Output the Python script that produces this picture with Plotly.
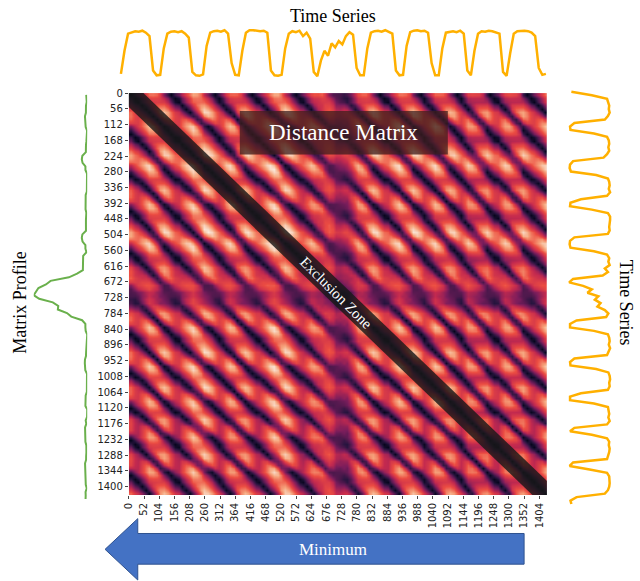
import numpy as np
import plotly.graph_objects as go

# time series, 120 samples (one per 12 time steps), 10 cycles
ts = [0.08, 0.55, 0.9, 0.93, 0.95, 0.94, 0.96, 0.92, 0.85, 0.15, 0.05, 0.06,
      0.6, 0.9, 0.94, 0.95, 0.93, 0.95, 0.9, 0.82, 0.12, 0.05, 0.04, 0.07,
      0.65, 0.92, 0.95, 0.96, 0.94, 0.97, 0.9, 0.3, 0.06, 0.05, 0.55, 0.92,
      0.97, 0.97, 0.96, 0.95, 0.96, 0.92, 0.15, 0.05, 0.04, 0.06, 0.6, 0.9,
      0.95, 0.93, 0.96, 0.85, 0.92, 0.8, 0.12, 0.03, 0.35, 0.55, 0.45, 0.7,
      0.62, 0.75, 0.68, 0.85, 0.93, 0.88, 0.2, 0.05, 0.05, 0.6, 0.92, 0.95,
      0.96, 0.94, 0.97, 0.93, 0.9, 0.15, 0.05, 0.06, 0.65, 0.93, 0.96, 0.97,
      0.95, 0.96, 0.92, 0.3, 0.05, 0.05, 0.6, 0.92, 0.94, 0.95, 0.93, 0.96,
      0.9, 0.15, 0.05, 0.55, 0.9, 0.95, 0.94, 0.96, 0.95, 0.93, 0.9, 0.12,
      0.04, 0.5, 0.9, 0.95, 0.96, 0.96, 0.95, 0.92, 0.85, 0.2, 0.06, 0.08]
step = 12
m = 7  # window length in samples
x_ticks = list(range(0, 1405, 52))
y_ticks = list(range(0, 1401, 56))

a = np.array(ts)
n = len(a) - m + 1
win = np.array([a[i:i + m] for i in range(n)])
dist = np.sqrt(((win[:, None, :] - win[None, :, :]) ** 2).sum(-1)) ** 1.3
excl = 3
mp = []
for i in range(n):
    row = dist[i].copy()
    row[max(0, i - excl):i + excl + 1] = np.inf
    mp.append(row.min())
full = 1430
d = full / n
idx = (np.arange(n) + 0.5) * d

W, H = 640, 581
px = lambda v: v / W
py = lambda v: 1 - v / H

rocket = [[0, "#03051a"], [0.15, "#2a1540"], [0.35, "#7a1d5c"], [0.52, "#c42a4f"],
          [0.68, "#ec4d42"], [0.85, "#f6a47c"], [1, "#faebdd"]]

fig = go.Figure()
fig.add_trace(go.Heatmap(z=dist, x=idx, y=idx, colorscale=rocket, showscale=False,
                         zsmooth="best", xaxis="x", yaxis="y"))
t_idx = np.arange(len(ts)) * step
fig.add_trace(go.Scatter(x=t_idx, y=ts, mode="lines", line=dict(color="#ffb000", width=2.5),
                         xaxis="x2", yaxis="y2", showlegend=False))
fig.add_trace(go.Scatter(x=ts, y=t_idx, mode="lines", line=dict(color="#ffb000", width=2.5),
                         xaxis="x3", yaxis="y3", showlegend=False))
fig.add_trace(go.Scatter(x=[-v for v in mp], y=idx, mode="lines", line=dict(color="#6ab04c", width=2),
                         xaxis="x4", yaxis="y4", showlegend=False))

tf = dict(family="DejaVu Sans", size=10, color="#222")
hm_range = [0, full]
fig.update_layout(
    width=W, height=H, margin=dict(l=0, r=0, t=0, b=0),
    paper_bgcolor="white", plot_bgcolor="white", showlegend=False,
    xaxis=dict(domain=[px(124), px(546)], anchor="y", range=hm_range, tickvals=x_ticks,
               tickangle=-90, tickfont=tf, ticks="outside", ticklen=3, showgrid=False, zeroline=False),
    yaxis=dict(domain=[py(494), py(88)], anchor="x", range=hm_range[::-1], tickvals=y_ticks,
               tickfont=tf, ticks="outside", ticklen=3, showgrid=False, zeroline=False),
    xaxis2=dict(domain=[px(113), px(548)], anchor="y2", range=[-10, t_idx[-1] + 10], visible=False),
    yaxis2=dict(domain=[py(75), py(22)], anchor="x2", range=[-0.05, 1.02], visible=False),
    xaxis3=dict(domain=[px(565), px(612)], anchor="y3", range=[-0.05, 1.02], visible=False),
    yaxis3=dict(domain=[py(505), py(85)], anchor="x3", range=[t_idx[-1] + 6, -6], visible=False),
    xaxis4=dict(domain=[px(28), px(82)], anchor="y4", visible=False),
    yaxis4=dict(domain=[py(500), py(88)], anchor="x4", range=[full, 0], visible=False),
)

serif = "Liberation Serif"
# exclusion zone band
b = 25
s0, L = -25, full + 30
fig.add_shape(type="path", xref="x", yref="y",
              path=f"M {s0-b},{s0+b} L {s0+b},{s0-b} L {L+b},{L-b} L {L-b},{L+b} Z",
              fillcolor="rgba(25,25,25,0.82)", line_width=0, layer="above")
fig.add_annotation(x=710, y=710, xref="x", yref="y", text="Exclusion Zone", textangle=45,
                   showarrow=False, font=dict(family=serif, size=15, color="white"))

def label(x, y, text, size, color="black", angle=0):
    fig.add_annotation(x=px(x), y=py(y), xref="paper", yref="paper", text=text, textangle=angle,
                       xanchor="center", yanchor="middle", showarrow=False,
                       font=dict(family=serif, size=size, color=color))

# distance matrix label
fig.add_shape(type="rect", xref="paper", yref="paper", x0=px(236), x1=px(446), y0=py(150), y1=py(106),
              fillcolor="rgba(60,30,30,0.75)", line_width=0)
label(341, 128, "Distance Matrix", 23, "white")
label(330, 10, "Time Series", 18)
label(626, 300, "Time Series", 18, angle=90)
label(14, 300, "Matrix Profile", 18, angle=-90)
# arrow
ax = [100, 133, 133, 523, 523, 133, 133]
ay = [549, 518, 533, 533, 564, 564, 580]
path = "M " + " L ".join(f"{px(u)},{py(v)}" for u, v in zip(ax, ay)) + " Z"
fig.add_shape(type="path", xref="paper", yref="paper", path=path,
              fillcolor="#4472c4", line=dict(color="#2f528f", width=1))
label(330, 549, "Minimum", 17, "white")

fig.write_html("out.html", config={"displayModeBar": False},
               post_script="document.body.style.margin='0';document.body.style.overflow='hidden';")
